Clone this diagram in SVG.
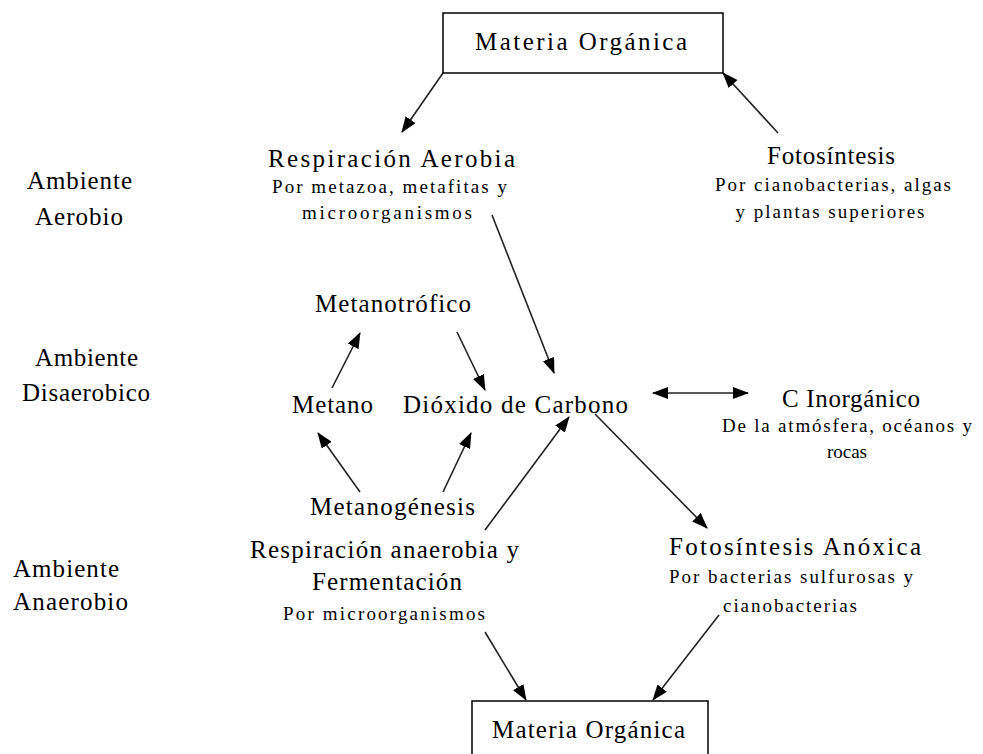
<svg xmlns="http://www.w3.org/2000/svg" width="983" height="754" viewBox="0 0 983 754">
<style>
text{font-family:"Liberation Serif","Times New Roman",serif;fill:#000}
.m{font-size:25px}
.s{font-size:19px}
.c{text-anchor:middle}
.box{fill:#fff;stroke:#000;stroke-width:1.5}
.ln{stroke:#222;stroke-width:1.6;fill:none;marker-end:url(#ah)}
</style>
<defs>
<marker id="ah" viewBox="0 0 16 12" refX="15" refY="6" markerWidth="16" markerHeight="12" markerUnits="userSpaceOnUse" orient="auto-start-reverse">
<path d="M0,0 L16,6 L0,12 z" fill="#000"/>
</marker>
</defs>
<rect width="983" height="754" fill="#fff"/>
<g id="connectors">
<line class="ln" x1="443" y1="73" x2="402" y2="132"/>
<line class="ln" x1="778" y1="133" x2="723" y2="73"/>
<line class="ln" x1="492" y1="215" x2="554" y2="373"/>
<line class="ln" x1="332" y1="388" x2="360" y2="333"/>
<line class="ln" x1="457" y1="332" x2="485" y2="390"/>
<line class="ln" x1="360" y1="492" x2="318" y2="433"/>
<line class="ln" x1="443" y1="492" x2="471" y2="433"/>
<line class="ln" x1="485" y1="530" x2="569" y2="417"/>
<line class="ln" x1="595" y1="414" x2="707" y2="528"/>
<line class="ln" x1="653" y1="393" x2="748" y2="393" marker-start="url(#ah)"/>
<line class="ln" x1="485" y1="632" x2="526" y2="700"/>
<line class="ln" x1="719" y1="615" x2="653" y2="700"/>
</g>
<g id="materia-top">
<rect class="box" x="443" y="13" width="280" height="60"/>
<text class="m c" x="581" y="50" textLength="212" lengthAdjust="spacing">Materia Orgánica</text>
</g>
<g id="ambiente-aerobio">
<text class="m c" x="79.5" y="189" textLength="105" lengthAdjust="spacing">Ambiente</text>
<text class="m c" x="79" y="225" textLength="88" lengthAdjust="spacing">Aerobio</text>
</g>
<g id="ambiente-disaerobico">
<text class="m c" x="86.5" y="366" textLength="103" lengthAdjust="spacing">Ambiente</text>
<text class="m c" x="86" y="401" textLength="128" lengthAdjust="spacing">Disaerobico</text>
</g>
<g id="ambiente-anaerobio">
<text class="m" x="13" y="577" textLength="106" lengthAdjust="spacing">Ambiente</text>
<text class="m" x="13" y="610" textLength="115" lengthAdjust="spacing">Anaerobio</text>
</g>
<g id="respiracion-aerobia">
<text class="m c" x="391.5" y="167" textLength="247" lengthAdjust="spacing">Respiración Aerobia</text>
<text class="s c" x="389.5" y="193" textLength="235" lengthAdjust="spacing">Por metazoa, metafitas y</text>
<text class="s c" x="387" y="219" textLength="170" lengthAdjust="spacing">microorganismos</text>
</g>
<g id="fotosintesis">
<text class="m c" x="831" y="164" textLength="128" lengthAdjust="spacing">Fotosíntesis</text>
<text class="s c" x="833" y="191" textLength="236" lengthAdjust="spacing">Por cianobacterias, algas</text>
<text class="s c" x="830" y="218" textLength="189" lengthAdjust="spacing">y plantas superiores</text>
</g>
<g id="metanotrofico">
<text class="m c" x="393" y="312" textLength="156" lengthAdjust="spacing">Metanotrófico</text>
</g>
<g id="metano">
<text class="m c" x="332.5" y="413" textLength="81" lengthAdjust="spacing">Metano</text>
</g>
<g id="dioxido">
<text class="m c" x="515.5" y="413" textLength="225" lengthAdjust="spacing">Dióxido de Carbono</text>
</g>
<g id="c-inorganico">
<text class="m c" x="851" y="407" textLength="138" lengthAdjust="spacing">C Inorgánico</text>
<text class="s c" x="847" y="432" textLength="250" lengthAdjust="spacing">De la atmósfera, océanos y</text>
<text class="s c" x="847" y="458" textLength="40" lengthAdjust="spacing">rocas</text>
</g>
<g id="metanogenesis">
<text class="m c" x="392.5" y="515" textLength="165" lengthAdjust="spacing">Metanogénesis</text>
</g>
<g id="respiracion-anaerobia">
<text class="m c" x="384.5" y="558" textLength="269" lengthAdjust="spacing">Respiración anaerobia y</text>
<text class="m c" x="387" y="590" textLength="150" lengthAdjust="spacing">Fermentación</text>
<text class="s c" x="384" y="620" textLength="202" lengthAdjust="spacing">Por microorganismos</text>
</g>
<g id="fotosintesis-anoxica">
<text class="m c" x="795" y="555" textLength="252" lengthAdjust="spacing">Fotosíntesis Anóxica</text>
<text class="s c" x="791" y="583" textLength="244" lengthAdjust="spacing">Por bacterias sulfurosas y</text>
<text class="s c" x="790" y="612" textLength="134" lengthAdjust="spacing">cianobacterias</text>
</g>
<g id="materia-bottom">
<rect class="box" x="472" y="701" width="236" height="60"/>
<text class="m c" x="588.5" y="738" textLength="193" lengthAdjust="spacing">Materia Orgánica</text>
</g>
</svg>
